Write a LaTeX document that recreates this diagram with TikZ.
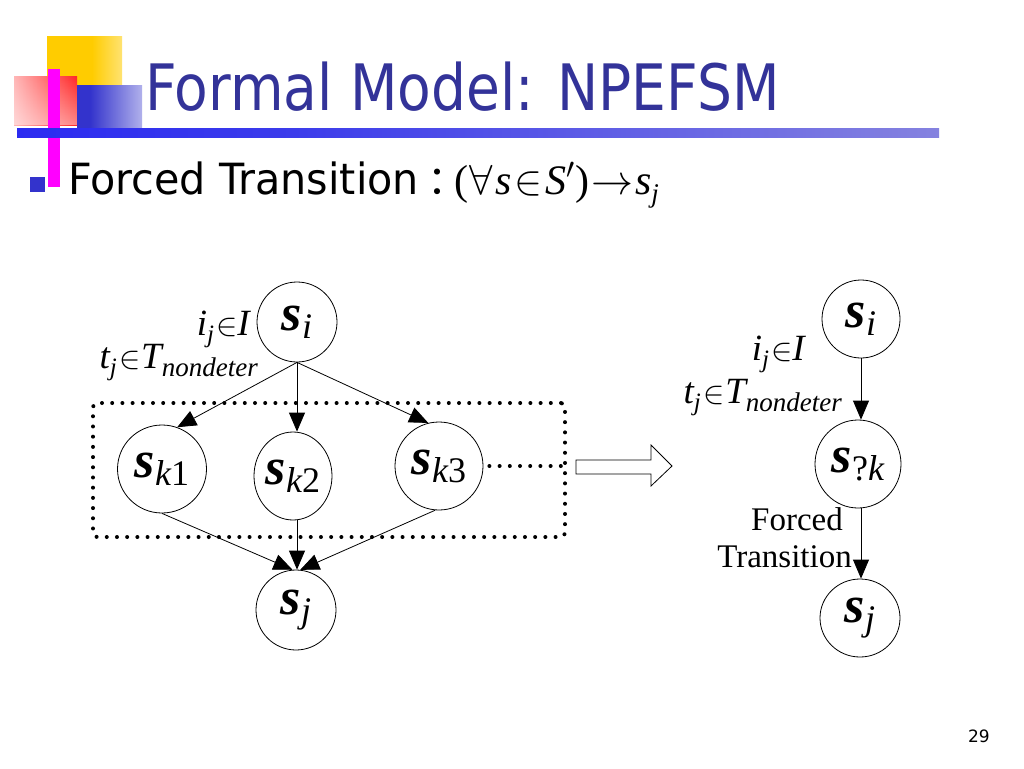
\RequirePackage{fix-cm}
\documentclass[tikz,border=0pt]{standalone}
\usepackage{graphicx}
\usepackage{fontspec}
\setmainfont{Liberation Serif}
\newfontfamily\titlefont{DejaVu Sans}
\newfontfamily\cjk{Noto Sans CJK SC}
\usetikzlibrary{arrows.meta,fadings,shapes.geometric}

\definecolor{titleblue}{RGB}{51,51,153}
\definecolor{sqblue}{RGB}{51,51,204}
\definecolor{sqyellow}{RGB}{255,204,0}
\definecolor{sqred}{RGB}{255,10,10}
\definecolor{barmag}{RGB}{255,0,255}
\definecolor{lineblue}{RGB}{15,15,250}
\definecolor{linemid}{RGB}{60,60,235}
\definecolor{lineend}{RGB}{185,180,215}

\pgfdeclarehorizontalshading{yfade}{100bp}{color(0bp)=(sqyellow); color(55bp)=(sqyellow); color(100bp)=(white)}
\pgfdeclarehorizontalshading{rfade}{100bp}{color(0bp)=(white); color(85bp)=(sqred); color(100bp)=(sqred)}
\pgfdeclarehorizontalshading{bfade}{100bp}{color(0bp)=(sqblue); color(35bp)=(sqblue); color(100bp)=(white)}
\pgfdeclarehorizontalshading{lfade}{100bp}{color(0bp)=(lineblue); color(40bp)=(linemid); color(100bp)=(lineend)}

\newcommand\fsz[1]{\fontsize{#1}{#1}\selectfont}
\newcommand\stt[1]{{\fsz{52}\bfseries\itshape s}\raisebox{-8pt}{\fsz{36}#1}}
\newcommand\lij{\fsz{37}{\itshape i}\raisebox{-7pt}{\fsz{25}\itshape j}\hspace{2pt}{\fsz{32}$\in$}{\itshape I}}
\newcommand\ltj{\fsz{37}{\itshape t}\raisebox{-7pt}{\fsz{25}\itshape j}\hspace{3pt}{\fsz{32}$\in$}{\itshape T}\raisebox{-8pt}{\fsz{27}\itshape nondeter}}

\tikzset{
  state/.style={ellipse, draw, line width=0.8pt, inner sep=0pt},
  arr/.style={-{Triangle[length=19pt,width=16pt]}, line width=0.8pt},
  dotted box/.style={draw, line width=4pt, dash pattern=on 0pt off 10.2pt, line cap=round},
  lbl/.style={anchor=base east, inner sep=0pt},
}

\begin{document}
\begin{tikzpicture}[x=1pt,y=-1pt]
\useasboundingbox (0,0) rectangle (1024,768);
\fill[white] (0,0) rectangle (1024,768);

% decoration
\shade[shading=yfade] (47,37) rectangle (122,112);
\shade[shading=rfade] (14,76) rectangle (77,125);
\fill[white, path fading=north, opacity=0.45] (14,76) rectangle (77,125);
\shade[shading=bfade] (77,85) rectangle (142,128);
\fill[barmag] (48,69) rectangle (60,187);
\shade[shading=lfade] (17,128) rectangle (939,137);
\fill[sqblue] (30,177) rectangle (45,192);

% title
\node[anchor=base west, text=titleblue, inner sep=0pt] (title) at (145,110)
  {\titlefont\fsz{64}\scalebox{0.86}[1]{Formal Model: NPEFSM}};
\node[anchor=base west, inner sep=0pt] (sub) at (68,194)
  {{\titlefont\fsz{43}\scalebox{0.96}[1]{Forced Transition}}\hspace{9pt}\makebox[27pt][l]{\cjk\fsz{40}：}{\fsz{42}(\hspace{1pt}$\forall$\hspace{2pt}{\itshape s}\hspace{3pt}$\in$\hspace{3pt}{\itshape S}$'$)\hspace{2pt}$\rightarrow$\hspace{2pt}{\itshape s}\raisebox{-8pt}{\fsz{27}\itshape j}}};

% left graph
\node[dotted box, rounded corners=4pt, minimum width=472pt, minimum height=134pt] (box) at (329,470) {};
\node[state, minimum width=80pt, minimum height=80pt] (si) at (297,322) {\stt{\itshape i}};
\node[state, minimum width=89pt, minimum height=88pt] (sk1) at (162,469) {\stt{{\itshape k}1}};
\node[state, minimum width=78pt, minimum height=88pt] (sk2) at (293,476) {\stt{{\itshape k}2}};
\node[state, minimum width=88pt, minimum height=88pt] (sk3) at (439,466) {\stt{{\itshape k}3}};
\node[state, minimum width=80pt, minimum height=80pt] (sj) at (296,610) {\stt{\itshape j}};
\draw[dotted box] ([xshift=6pt]sk3.east) -- (sk3.east -| box.east);

\draw[arr] (si.south) -- (sk1.70);
\draw[arr] (si.south) -- (si.south |- sk2.north);
\draw[arr] (si.south) -- (sk3.104);
\draw[arr] (sk1.south) -- (sj.95);
\draw[arr] (si.south |- sk2.south) -- (si.south |- sj.north);
\draw[arr] (sk3.265) -- (sj.84);

\node[lbl] (lij) at (250,335) {\lij};
\node[lbl] (ltj) at (258,368) {\ltj};

% hollow arrow
\draw[line width=0.8pt, fill=white] (576,460) -- (651,460) -- (651,445) -- (672,466) -- (651,486) -- (651,474) -- (576,474) -- cycle;

% right graph
\node[state, minimum width=78pt, minimum height=78pt] (ri) at (861,319) {\stt{\itshape i}};
\node[state, minimum width=86pt, minimum height=88pt] (rk) at (858,464) {\stt{?{\itshape k}}};
\node[state, minimum width=80pt, minimum height=78pt] (rj) at (860,618) {\stt{\itshape j}};
\draw[arr] (ri.south) -- (ri.south |- rk.north);
\draw[arr] (ri.south |- rk.south) -- (ri.south |- rj.north);

\node[lbl] (rij) at (805,360) {\lij};
\node[lbl] (rtj) at (842,403) {\ltj};
\node[lbl] (forced) at (843,530) {\fsz{33}Forced};
\node[lbl] (trans) at (852,567) {\fsz{33}Transition};

\node[anchor=base east, inner sep=0pt] (pg) at (990,742) {\titlefont\fsz{17}29};
\end{tikzpicture}
\end{document}
